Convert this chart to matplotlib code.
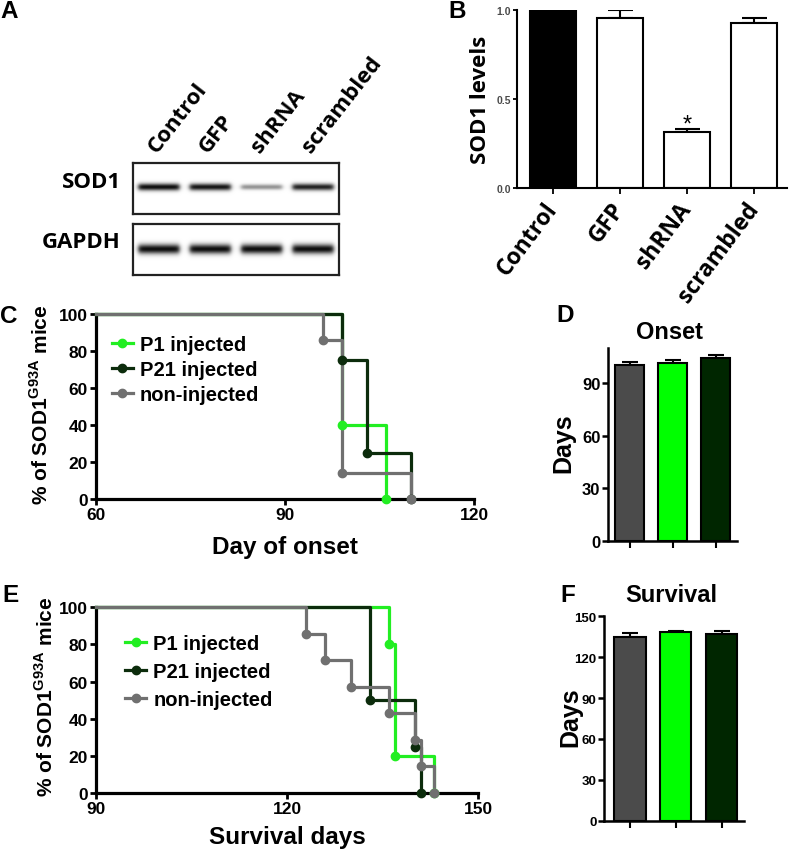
"""
SOD1 knockdown figure: western blot, quantification, onset and survival.
"""

import matplotlib
matplotlib.use("Agg")
import matplotlib.pyplot as plt
import numpy as np

plt.rcParams["font.family"] = ["Liberation Sans", "DejaVu Sans"]
plt.rcParams["font.weight"] = "bold"
plt.rcParams["mathtext.fontset"] = "custom"
plt.rcParams["mathtext.rm"] = "Liberation Sans"
plt.rcParams["mathtext.bf"] = "Liberation Sans:bold"

# Panel A - blot lanes and relative band darkness.
lanes = ["Control", "GFP", "shRNA", "scrambled"]
sod1_band = [1.0, 0.97, 0.45, 0.92]
gapdh_band = [1.0, 1.0, 1.0, 1.0]

# Panel B - relative SOD1 levels.
sod1_levels = [1.0, 0.953, 0.316, 0.927]
sod1_err = [0.0, 0.045, 0.018, 0.026]

# Panel C - onset curves (day, % remaining).
onset_p1_days = [60, 99, 106]
onset_p1_pct = [100, 40, 0]
onset_p21_days = [60, 99, 103, 110]
onset_p21_pct = [100, 75, 25, 0]
onset_non_days = [60, 96, 99, 110]
onset_non_pct = [100, 85.7, 14.3, 0]

# Panel E - survival curves (day, % remaining).
surv_p1_days = [90, 136, 137, 143]
surv_p1_pct = [100, 80, 20, 0]
surv_p21_days = [90, 133, 140, 141]
surv_p21_pct = [100, 50, 25, 0]
surv_non_days = [90, 123, 126, 130, 136, 140, 141, 143]
surv_non_pct = [100, 85.7, 71.4, 57.1, 42.9, 28.6, 14.3, 0]

# Panels D and F - mean days (non-injected, P1, P21).
onset_mean = [100.3, 101.8, 104.2]
onset_err = [1.6, 1.6, 2.1]
survival_mean = [134.5, 138.6, 137.0]
survival_err = [3.0, 0.8, 2.0]

series_names = ["P1 injected", "P21 injected", "non-injected"]
curve_colors = ["#22ee22", "#0c2c0c", "#707070"]
bar_colors = ["#4b4b4b", "#00ff00", "#002600"]

W, H = 789, 853
fig = plt.figure(figsize=(W / 100, H / 100), dpi=100)


def px_axes(left, top, right, bottom):
    """Add axes from pixel box (origin at top-left)."""
    return fig.add_axes([left / W, 1 - bottom / H, (right - left) / W, (bottom - top) / H])


def panel_letter(x, y, letter):
    fig.text(x / W, 1 - y / H, letter, fontsize=17.5, fontweight="bold",
             ha="center", va="center")


def blot_image(levels, centre, sigma):
    xs = np.linspace(-0.5, 3.5, 400)
    ys = np.linspace(0, 1, 120)
    xx, yy = np.meshgrid(xs, ys)
    img = np.zeros_like(xx)
    for i, level in enumerate(levels):
        across = 1 / (1 + np.exp((np.abs(xx - i) - 0.40) / 0.025))
        thick = sigma * (0.55 + 0.45 * level)
        img += level * across * np.exp(-((yy - centre) / thick) ** 2)
    return np.clip(img, 0, 1)


# ---------------- Panel A ----------------
blots = [(164, 215, sod1_band, 0.53, 0.07, "SOD1"),
         (225, 276, gapdh_band, 0.51, 0.095, "GAPDH")]
for top, bottom, levels, centre, sigma, name in blots:
    ax = px_axes(133, top, 339, bottom)
    ax.imshow(blot_image(levels, centre, sigma), cmap="gray_r", vmin=0, vmax=1.05,
              extent=(-0.5, 3.5, 0, 1), aspect="auto", origin="lower",
              interpolation="bilinear")
    ax.set_xlim(-0.5, 3.5)
    ax.set_ylim(0, 1)
    ax.set_xticks([])
    ax.set_yticks([])
    for sp in ax.spines.values():
        sp.set_linewidth(1.6)
        sp.set_color("#222222")
    fig.text(121 / W, 1 - (top + 18) / H, name, family="Open Sans", fontsize=16,
             fontweight="bold", ha="right", va="center")
    if name == "SOD1":
        for i, lane in enumerate(lanes):
            ax.text(i - 0.04, 1.2, lane, transform=ax.get_xaxis_transform(),
                    family="Open Sans", fontsize=16, fontweight="bold",
                    rotation=52, rotation_mode="anchor", ha="left", va="baseline")

# ---------------- Panel B ----------------
axb = px_axes(517, 11, 787, 189)
xb = np.arange(len(lanes))
axb.bar(xb, sod1_levels, width=0.69, color=["black", "white", "white", "white"],
        edgecolor="black", linewidth=1.5, zorder=2)
axb.errorbar(xb, sod1_levels, yerr=[np.zeros(len(lanes)), sod1_err], fmt="none",
             ecolor="black", elinewidth=1.5, capsize=9, capthick=1.5, zorder=1)
axb.text(2, 0.355, "*", ha="center", va="center", fontsize=17, fontweight="normal")
axb.set_xlim(-0.54, 3.49)
axb.set_ylim(0, 1.0)
axb.set_yticks([0, 0.5, 1.0])
axb.set_yticklabels(["0.0", "0.5", "1.0"], fontsize=7.5, color="#4a4a4a",
                    fontweight="bold")
axb.set_xticks(xb)
axb.set_xticklabels(lanes, family="Open Sans", fontsize=16.5, fontweight="bold",
                    rotation=53, rotation_mode="anchor", ha="right", va="center")
axb.tick_params(axis="y", length=3, width=1.3, pad=1.5)
axb.tick_params(axis="x", length=4, width=1.3, pad=8)
for side in ["top", "right"]:
    axb.spines[side].set_visible(False)
for side in ["left", "bottom"]:
    axb.spines[side].set_linewidth(1.5)
axb.text(-0.135, 0.5, "SOD1 levels", transform=axb.transAxes, rotation=90,
         family="Open Sans", fontsize=16, fontweight="bold", ha="center", va="center")


# ---------------- Survival-style panels ----------------
def curve_axes(ax, curves, xlim, xticks, ylab_xy, xlabel, xlab_y, legend_xy, spacing):
    for (days, pct), name, color, z in zip(curves, series_names, curve_colors, [3, 4, 5]):
        ax.step(days, pct, where="post", color=color, linewidth=2.3, clip_on=False,
                zorder=z, label=name)
        ax.plot(days[1:], pct[1:], "o", color=color, markersize=6, clip_on=False,
                zorder=z + 3)
    ax.set_xlim(*xlim)
    ax.set_ylim(0, 100)
    ax.set_xticks(xticks)
    ax.set_yticks([0, 20, 40, 60, 80, 100])
    ax.tick_params(labelsize=12.5, length=4, width=2, pad=2)
    for lab in ax.get_xticklabels() + ax.get_yticklabels():
        lab.set_fontweight("bold")
    for side in ["top", "right"]:
        ax.spines[side].set_visible(False)
    for side in ["left", "bottom"]:
        ax.spines[side].set_linewidth(2.3)
        ax.spines[side].set_zorder(2)
    ax.text(ylab_xy[0], ylab_xy[1], r"% of SOD1$^{\mathrm{G93A}}$ mice",
            transform=ax.transAxes, rotation=90, fontsize=15, fontweight="bold",
            ha="center", va="center")
    ax.text(0.5, xlab_y, xlabel, transform=ax.transAxes, fontsize=17.5,
            fontweight="bold", ha="center", va="center")
    handles = [plt.Line2D([], [], color=c, linewidth=2.3, marker="o", markersize=6)
               for c in curve_colors]
    ax.legend(handles, series_names, loc="upper left", bbox_to_anchor=legend_xy,
              frameon=False, handlelength=1.05, handletextpad=0.35,
              labelspacing=spacing, borderpad=0, borderaxespad=0,
              prop={"weight": "bold", "size": 14.5})


def bar_axes(ax, means, errs, ylim, yticks, title, title_xy, ylab_xy, xlim, ticksize):
    xs = np.arange(len(means))
    ax.bar(xs, means, width=0.68, color=bar_colors, edgecolor="black", linewidth=1.5,
           zorder=2)
    ax.errorbar(xs, means, yerr=[np.zeros(len(means)), errs], fmt="none",
                ecolor="black", elinewidth=1.5, capsize=6, capthick=1.5, zorder=1)
    ax.set_xlim(*xlim)
    ax.set_ylim(*ylim)
    ax.set_yticks(yticks)
    ax.set_xticks(xs)
    ax.set_xticklabels([])
    ax.tick_params(axis="y", labelsize=ticksize, length=4, width=1.8, pad=1.5)
    ax.tick_params(axis="x", length=5, width=1.5)
    for lab in ax.get_yticklabels():
        lab.set_fontweight("bold")
    for side in ["top", "right"]:
        ax.spines[side].set_visible(False)
    for side in ["left", "bottom"]:
        ax.spines[side].set_linewidth(1.8)
    ax.text(title_xy[0], title_xy[1], title, transform=ax.transAxes, fontsize=17,
            fontweight="bold", ha="center", va="center")
    ax.text(ylab_xy[0], ylab_xy[1], "Days", transform=ax.transAxes, rotation=90,
            fontsize=18, fontweight="bold", ha="center", va="center")


# Panel C
axc = px_axes(96, 315, 474, 500)
curve_axes(axc, [(onset_p1_days, onset_p1_pct), (onset_p21_days, onset_p21_pct),
                 (onset_non_days, onset_non_pct)],
           (60, 120), [60, 90, 120], (-0.148, 0.516), "Day of onset", -0.259,
           (0.042, 0.885), 0.3)

# Panel D
axd = px_axes(608, 349.3, 736.7, 541.7)
bar_axes(axd, onset_mean, onset_err, (0, 110), [0, 30, 60, 90], "Onset",
         (0.48, 1.085), (-0.345, 0.513), (-0.51, 2.49), 12)

# Panel E
axe = px_axes(96, 608.3, 478.3, 794)
curve_axes(axe, [(surv_p1_days, surv_p1_pct), (surv_p21_days, surv_p21_pct),
                 (surv_non_days, surv_non_pct)],
           (90, 150), [90, 120, 150], (-0.133, 0.522), "Survival days", -0.232,
           (0.076, 0.857), 0.45)

# Panel F
axf = px_axes(604.3, 617.3, 744, 821.7)
bar_axes(axf, survival_mean, survival_err, (0, 150), [0, 30, 60, 90, 120, 150],
         "Survival", (0.476, 1.109), (-0.245, 0.51), (-0.56, 2.49), 9.5)

panel_letter(9, 11, "A")
panel_letter(457.5, 11.5, "B")
panel_letter(9, 316.5, "C")
panel_letter(565, 316, "D")
panel_letter(10.5, 595, "E")
panel_letter(567.5, 595, "F")

fig.savefig("out.png", dpi=100)
